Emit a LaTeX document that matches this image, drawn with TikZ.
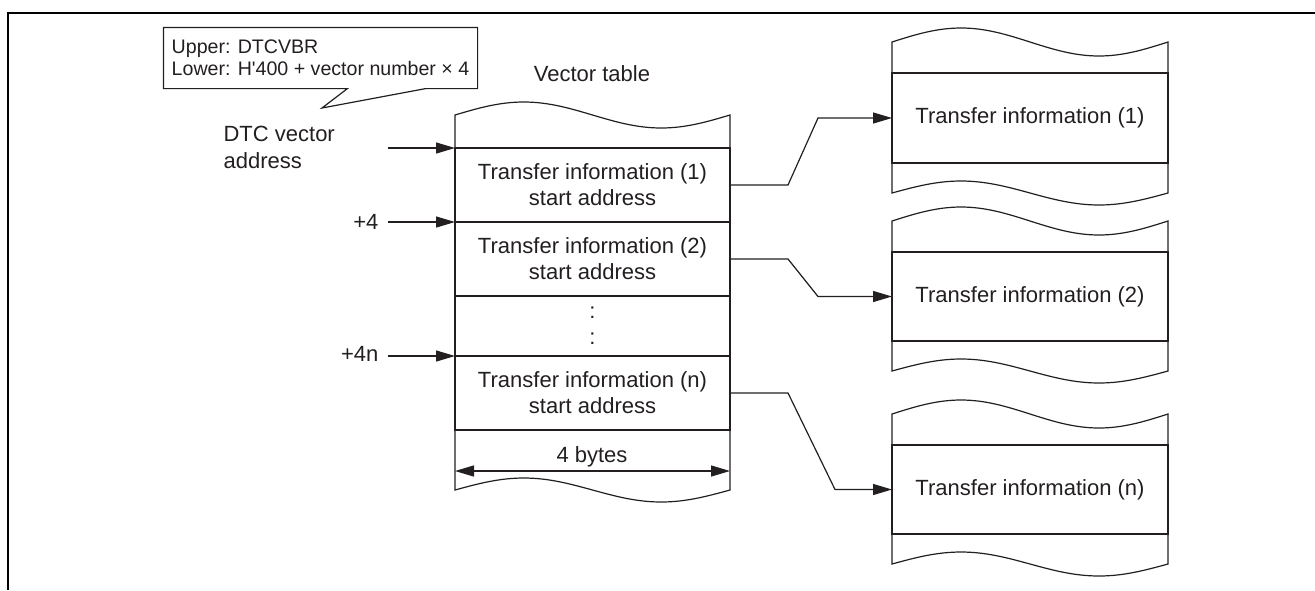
\documentclass[tikz,border=0pt]{standalone}
\usepackage{fontspec}
\setmainfont{Liberation Sans}
\usepackage{tikz}
\usetikzlibrary{calc, arrows.meta, positioning}
\definecolor{ink}{RGB}{35,31,32}
\tikzstyle{cell} = [rectangle, draw, outer sep=0pt, inner sep=0pt, minimum width=137.5pt, align=center]
\tikzstyle{lbl} = [inner sep=0pt]
\tikzstyle{connector} = [draw, -{Triangle[length=9.5pt, width=5.5pt]}]

\begin{document}
\begin{tikzpicture}[x=0.5pt, y=-0.5pt, line width=0.6pt, color=ink, font=\fontsize{11}{13}\selectfont]
        \useasboundingbox (0,0) rectangle (1315,590);
        \draw[black, line width=1pt] (8,590) -- (8,13) -- (1315,13);

        % callout
        \node[lbl, minimum width=156.5pt, minimum height=30pt, align=left, font=\fontsize{9.8}{11}\selectfont] (callout) at (320.5,58) {Upper: DTCVBR\\Lower: H\textquotesingle400 + vector number \texttimes{} 4};
        \coordinate (tip) at (322,108);
        \draw ($(callout.south east)+(-52,0)$) -- (callout.south east) -- (callout.north east) -- (callout.north west) -- (callout.south west) -- ($(callout.south west)+(184,0)$) -- (tip) -- cycle;

        \node[lbl, anchor=west, align=left, font=\fontsize{11}{13.5}\selectfont] (dtcaddr) at (223,147) {DTC vector\\address};
        \node[lbl, anchor=east] (plusfour) at (379,222) {+4};
        \node[lbl, anchor=east] (plusfourn) at (379,354) {+4n};
        \node[lbl] (vtitle) at (592,74) {Vector table};

        % vector table
        \node[cell, minimum height=37pt] (row1) at (592.5,185) {Transfer information (1)\\start address};
        \node[cell, minimum height=37pt, below=0pt of row1] (row2) {Transfer information (2)\\start address};
        \node[cell, minimum height=30pt, below=0pt of row2] (rowdots) {:\\:};
        \node[cell, minimum height=37pt, below=0pt of rowdots] (rown) {Transfer information (n)\\start address};
        \draw (row1.north west) -- ++(0,-33) sin ++(68.75,-13) cos ++(68.75,13) sin ++(68.75,13) cos ++(68.75,-13) -- (row1.north east);
        \draw (rown.south west) -- ++(0,60) sin ++(68.75,-12) cos ++(68.75,12) sin ++(68.75,12) cos ++(68.75,-12) -- (rown.south east);

        \node[lbl] (bytes) at (592,457) {4 bytes};
        \coordinate (bytesL) at ($(rown.south west)+(0,41)$);
        \coordinate (bytesR) at ($(rown.south east)+(0,41)$);
        \draw[{Triangle[length=9.5pt, width=5.5pt]}-{Triangle[length=9.5pt, width=5.5pt]}] (bytesL) -- (bytesR);

        \coordinate (dtcfrom) at (388,148);
        \coordinate (fourfrom) at (388,222);
        \coordinate (fournfrom) at (388,356);
        \draw[connector] (dtcfrom) -- (row1.north west);
        \draw[connector] (fourfrom) -- (row2.north west);
        \draw[connector] (fournfrom) -- (rown.north west);

        % transfer information blocks
        \node[cell, minimum width=138pt, minimum height=45pt] (info1) at (1030,118) {Transfer information (1)};
        \node[cell, minimum width=138pt, minimum height=44.5pt] (info2) at (1030,296.5) {Transfer information (2)};
        \node[cell, minimum width=138pt, minimum height=44.5pt] (infon) at (1030,489.5) {Transfer information (n)};
        \draw (info1.north west) -- ++(0,-31) sin ++(69,-14) cos ++(69,14) sin ++(69,14) cos ++(69,-14) -- (info1.north east);
        \draw (info1.south west) -- ++(0,30) sin ++(69,-12) cos ++(69,12) sin ++(69,12) cos ++(69,-12) -- (info1.south east);
        \draw (info2.north west) -- ++(0,-31) sin ++(69,-14) cos ++(69,14) sin ++(69,14) cos ++(69,-14) -- (info2.north east);
        \draw (info2.south west) -- ++(0,30) sin ++(69,-12) cos ++(69,12) sin ++(69,12) cos ++(69,-12) -- (info2.south east);
        \draw (infon.north west) -- ++(0,-31) sin ++(69,-14) cos ++(69,14) sin ++(69,14) cos ++(69,-14) -- (infon.north east);
        \draw (infon.south west) -- ++(0,30) sin ++(69,-12) cos ++(69,12) sin ++(69,12) cos ++(69,-12) -- (infon.south east);

        \draw[connector] (row1.east) -- ++(58,0) -- ($(info1.west)+(-74,0)$) -- (info1.west);
        \draw[connector] (row2.east) -- ++(58,0) -- ($(info2.west)+(-74,0)$) -- (info2.west);
        \draw[connector] (rown.east) -- ++(58,0) -- ($(infon.west)+(-57,0)$) -- (infon.west);

    \end{tikzpicture}
\end{document}
